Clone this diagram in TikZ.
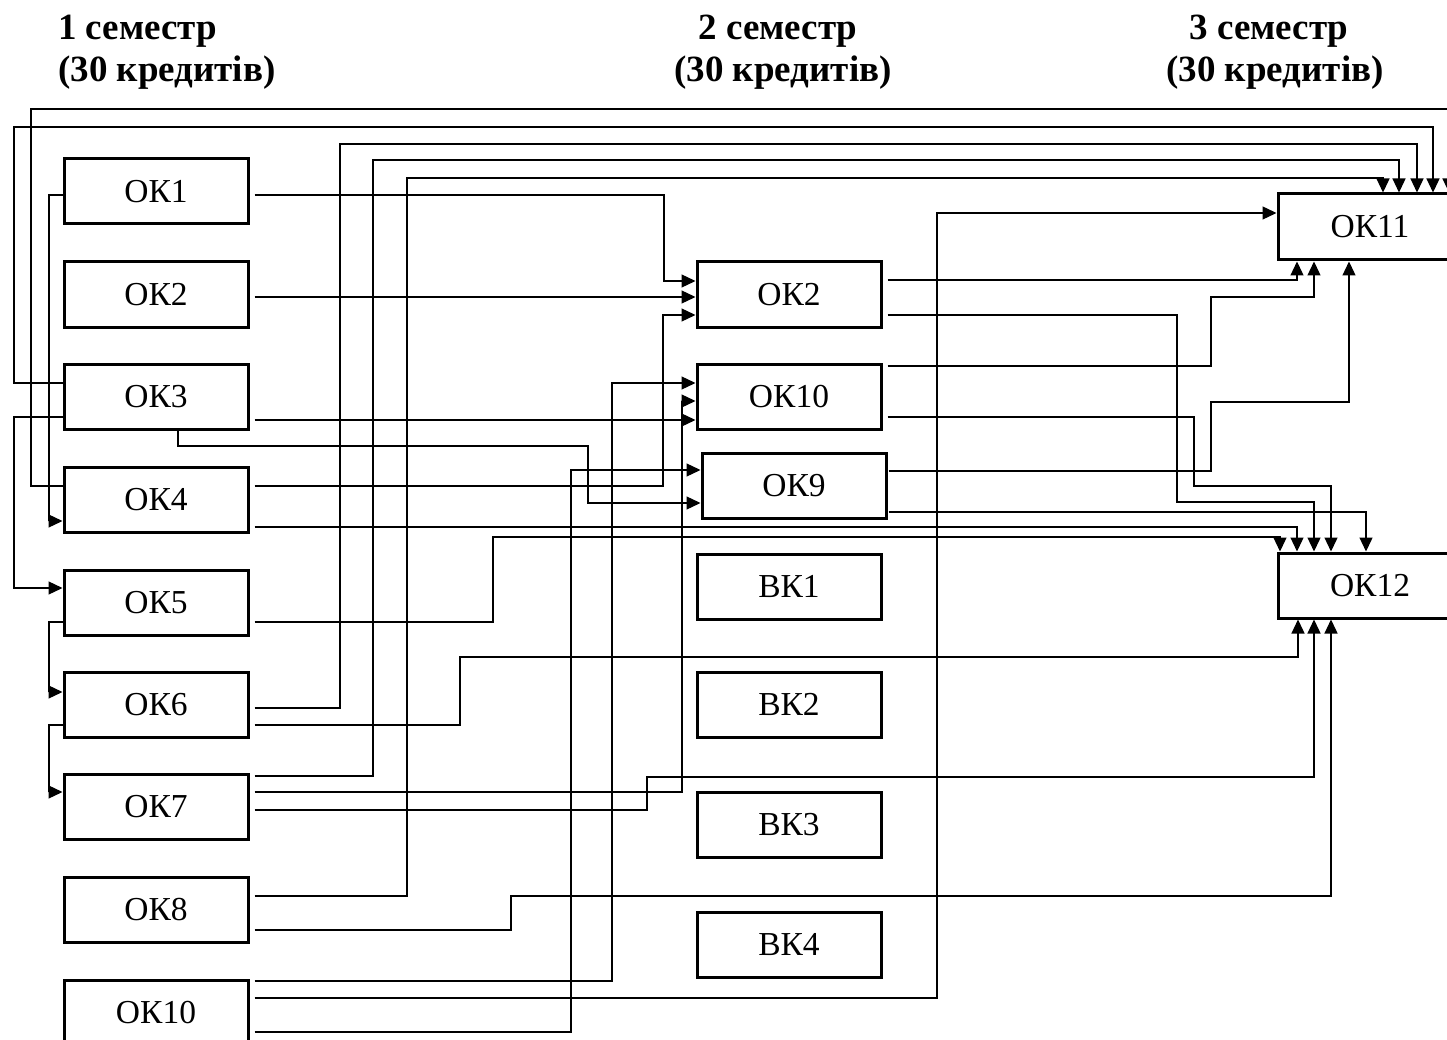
\documentclass[tikz,border=0pt]{standalone}
\usepackage{fontspec}
\setmainfont{Liberation Serif}
\usetikzlibrary{arrows.meta,calc}
\begin{document}
\begin{tikzpicture}[x=1pt,y=-1pt,
  box/.style={draw, line width=3pt, minimum width=184pt, minimum height=65pt, inner sep=0pt, font=\fontsize{33.5}{40}\selectfont},
  wire/.style={line width=1.3pt},
  arr/.style={wire, -{Triangle[length=14pt,width=13pt]}},
  ttl/.style={inner sep=0pt, font=\fontsize{37}{44}\selectfont\bfseries}]
\useasboundingbox (0,0) rectangle (1447,1040);
\clip (0,0) rectangle (1447,1040);
% titles
\node[ttl, anchor=base west] (t1a) at (58,40) {1 семестр};
\node[ttl, anchor=base west] (t1b) at (58,82) {(30 кредитів)};
\node[ttl, anchor=base] (t2a) at (778,40) {2 семестр};
\node[ttl, anchor=base] (t2b) at (783,82) {(30 кредитів)};
\node[ttl, anchor=base] (t3a) at (1269,40) {3 семестр};
\node[ttl, anchor=base] (t3b) at (1275,82) {(30 кредитів)};
% left column
\node[box] (a1) at (156,191.5) {ОК1};
\node[box] (a2) at (156,294.5) {ОК2};
\node[box] (a3) at (156,396.5) {ОК3};
\node[box] (a4) at (156,499.5) {ОК4};
\node[box] (a5) at (156,602.5) {ОК5};
\node[box] (a6) at (156,704.5) {ОК6};
\node[box] (a7) at (156,806.5) {ОК7};
\node[box] (a8) at (156,909.5) {ОК8};
\node[box] (a10) at (156,1012.5) {ОК10};
% middle column
\node[box] (b2) at (789,294.5) {ОК2};
\node[box] (b10) at (789,396.5) {ОК10};
\node[box] (b9) at (794,485.5) {ОК9};
\node[box] (v1) at (789,586.5) {ВК1};
\node[box] (v2) at (789,704.5) {ВК2};
\node[box] (v3) at (789,824.5) {ВК3};
\node[box] (v4) at (789,944.5) {ВК4};
% right column
\node[box, minimum height=66pt] (c11) at (1370,227) {ОК11};
\node[box] (c12) at (1370,585.5) {ОК12};
% connectors into middle column
\draw[arr] ($(a1.east)+(5,3.5)$) -| (664,281) -- (b2.west |- 0,281);
\draw[arr] ($(a2.east)+(5,2.5)$) -- (b2.west |- 0,297);
\draw[arr] ($(a4.east)+(5,-13.5)$) -| (663,315) -- (b2.west |- 0,315);
\draw[arr] ($(a3.east)+(5,23.5)$) -- (b10.west |- 0,420);
\draw[arr] ($(a7.east)+(5,-14.5)$) -| (682,401) -- (b10.west |- 0,401);
\draw[arr] ($(a10.east)+(5,-31.5)$) -| (612,383) -- (b10.west |- 0,383);
\draw[arr] ($(a10.east)+(5,19.5)$) -| (571,470) -- (b9.west |- 0,470);
\draw[arr] ($(a3.south)+(22,0)$) |- (588,446) |- (b9.west |- 0,503);
% left side loops
\draw[arr] ($(a1.west)+(0,3.5)$) -| (49,521) -- (a4.west |- 0,521);
\draw[arr] ($(a3.west)+(0,20.5)$) -| (14,588) -- (a5.west |- 0,588);
\draw[arr] ($(a5.west)+(0,19.5)$) -| (49,692) -- (a6.west |- 0,692);
\draw[arr] ($(a6.west)+(0,20.5)$) -| (49,792) -- (a7.west |- 0,792);
% into OK11 from top
\draw[arr] ($(a3.west)+(0,-13.5)$) -| (14,127) -| (c11.north -| 1433,0);
\draw[arr] ($(a4.west)+(0,-13.5)$) -| (31,109) -| (c11.north -| 1449,0);
\draw[arr] ($(a6.east)+(5,3.5)$) -| (340,144) -| (c11.north -| 1417,0);
\draw[arr] ($(a7.east)+(5,-30.5)$) -| (373,160) -| (c11.north -| 1399,0);
\draw[arr] ($(a8.east)+(5,-13.5)$) -| (407,178) -| (c11.north -| 1383,0);
\draw[arr] ($(a10.east)+(5,-14.5)$) -| (937,213) -- (c11.west |- 0,213);
% into OK12
\draw[arr] ($(a6.east)+(5,20.5)$) -| (460,657) -| (c12.south -| 1298,0);
\draw[arr] ($(a5.east)+(5,19.5)$) -| (493,537) -| (c12.north -| 1280,0);
\draw[arr] ($(a4.east)+(5,27.5)$) -| (c12.north -| 1297,0);
\draw[arr] ($(a7.east)+(5,3.5)$) -| (647,777) -| (c12.south -| 1314,0);
\draw[arr] ($(a8.east)+(5,20.5)$) -| (511,896) -| (c12.south -| 1331,0);
% middle to right
\draw[arr] ($(b2.east)+(5,-14.5)$) -| (c11.south -| 1297,0);
\draw[arr] ($(b2.east)+(5,20.5)$) -| (1177,502) -| (c12.north -| 1314,0);
\draw[arr] ($(b10.east)+(5,-30.5)$) -| (1211,297) -| (c11.south -| 1314,0);
\draw[arr] ($(b10.east)+(5,20.5)$) -| (1194,486) -| (c12.north -| 1331,0);
\draw[arr] ($(b9.east)+(1,-14.5)$) -| (1211,402) -| (c11.south -| 1349,0);
\draw[arr] ($(b9.east)+(1,26.5)$) -| (c12.north -| 1366,0);
\end{tikzpicture}
\end{document}
